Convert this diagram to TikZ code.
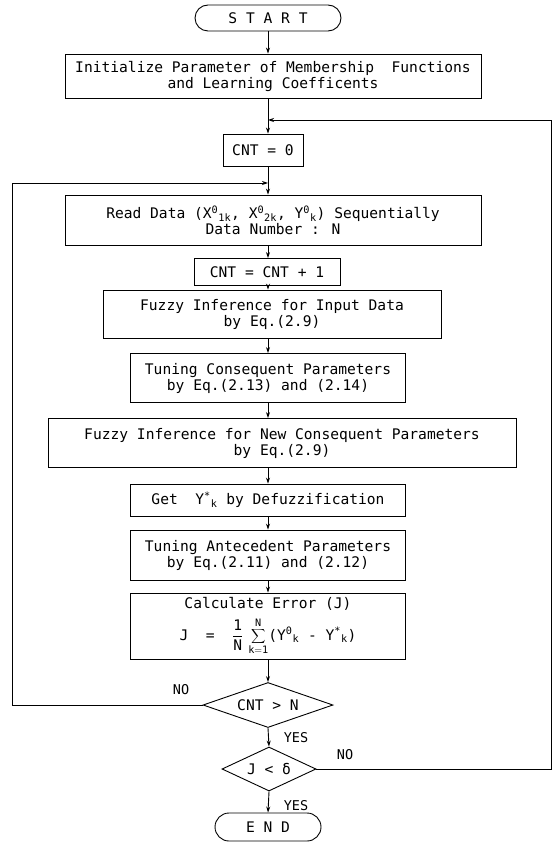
\documentclass[tikz,border=0pt]{standalone}
\usepackage{fontspec}
\setmainfont{DejaVu Sans Mono}
\usetikzlibrary{shapes.geometric,arrows.meta}
\begin{document}
\begin{tikzpicture}[x=1pt,y=-1pt,
  every node/.style={font=\fontsize{14.6}{16}\selectfont},
  box/.style={draw,line width=0.9pt,align=center,inner sep=0pt},
  term/.style={draw,line width=0.9pt,rounded corners=13pt,inner sep=0pt},
  dec/.style={draw,diamond,line width=0.9pt,inner sep=0pt},
  arr/.style={line width=0.9pt,-{Stealth[length=6pt,width=4pt]}},
  lbl/.style={font=\fontsize{13.5}{14}\selectfont,inner sep=0pt}]
\useasboundingbox (0,0) rectangle (553,842);
% nodes
\node[term,minimum width=146pt,minimum height=26pt] (start) at (268,18) {S T A R T};
\node[box,minimum width=416pt,minimum height=44pt] (init) at (273,76)
  {Initialize Parameter of Membership\ \ Functions\\and Learning Coefficents};
\coordinate (j1) at (268,120);
\node[box,minimum width=80pt,minimum height=32pt] (cnt0) at (263,150) {CNT = 0};
\coordinate (j2) at (268,183);
\node[box,minimum width=416pt,minimum height=50pt] (read) at (273,220)
  {Read Data (X\textsuperscript{0}\textsubscript{1k}, X\textsuperscript{0}\textsubscript{2k}, Y\textsuperscript{0}\textsubscript{k}) Sequentially\\Data Number : N};
\node[box,minimum width=146pt,minimum height=27pt] (inc) at (267,272) {CNT = CNT + 1};
\node[box,minimum width=338pt,minimum height=48pt] (fin) at (272,314)
  {Fuzzy Inference for Input Data\\by Eq.(2.9)};
\node[box,minimum width=275pt,minimum height=49pt] (tc) at (268,378)
  {Tuning Consequent Parameters\\by Eq.(2.13) and (2.14)};
\node[box,minimum width=468pt,minimum height=49pt] (fn) at (282,443)
  {Fuzzy Inference for New Consequent Parameters\\by Eq.(2.9)};
\node[box,minimum width=275pt,minimum height=32pt] (get) at (268,500)
  {Get\ \ Y\textsuperscript{*}\textsubscript{k} by Defuzzification};
\node[box,minimum width=275pt,minimum height=50pt] (ta) at (268,555)
  {Tuning Antecedent Parameters\\by Eq.(2.11) and (2.12)};
\node[box,minimum width=275pt,minimum height=66pt] (calc) at (268,626)
  {Calculate Error (J)\\[7pt]
   J\ \ =\ \ $\displaystyle\frac{\mathrm{1}}{\mathrm{N}}\,\sum_{\mathrm{k=1}}^{\mathrm{N}}$(Y\textsuperscript{0}\textsubscript{k} - Y\textsuperscript{*}\textsubscript{k})};
\node[dec,minimum width=130pt,minimum height=45pt,aspect=2.9] (dc) at (268,705) {CNT > N};
\node[dec,minimum width=94pt,minimum height=44pt,aspect=2.1] (jd) at (269,769) {J < δ};
\node[term,minimum width=106pt,minimum height=28pt,rounded corners=14pt] (end) at (268,827) {E N D};
% connectors
\draw[arr] (start) -- (start |- init.north);
\draw[arr] (init.south -| start) -- (cnt0.north -| start);
\draw[arr] (cnt0.south -| start) -- (read.north -| start);
\draw[arr] (read.south -| start) -- (inc.north -| start);
\draw[arr] (inc.south -| start) -- (fin.north -| start);
\draw[arr] (fin.south -| start) -- (tc.north -| start);
\draw[arr] (tc.south -| start) -- (fn.north -| start);
\draw[arr] (fn.south -| start) -- (get.north -| start);
\draw[arr] (get.south -| start) -- (ta.north -| start);
\draw[arr] (ta.south -| start) -- (calc.north -| start);
\draw[arr] (calc.south -| start) -- (dc.north);
\draw[arr] (dc.south) -- (jd.north);
\draw[arr] (jd.south) -- (end.north);
% loops
\draw[arr] (dc.west) -- (12,705) -- (12,183) -- (j2);
\draw[arr] (jd.east) -- (551,769) -- (551,120) -- (j1);
% labels
\node[lbl] (no1) at (181,690) {NO};
\node[lbl] (yes1) at (296,738) {YES};
\node[lbl] (no2) at (345,755) {NO};
\node[lbl] (yes2) at (296,806) {YES};
\end{tikzpicture}
\end{document}
